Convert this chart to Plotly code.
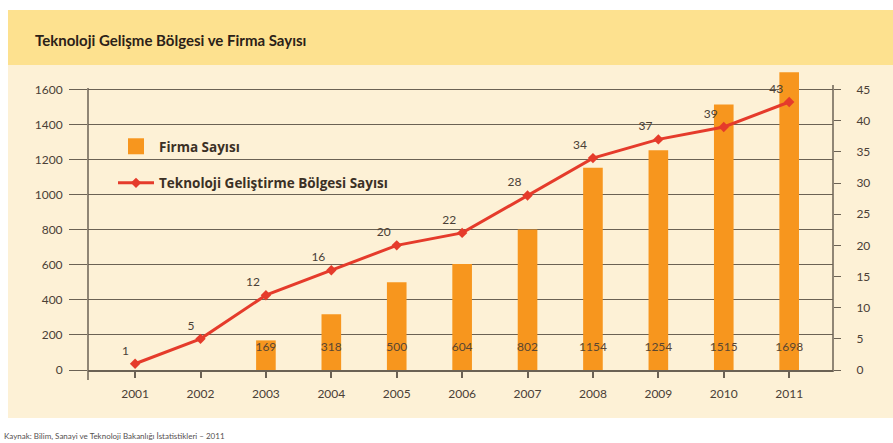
import plotly.graph_objects as go

years = ["2001", "2002", "2003", "2004", "2005", "2006", "2007", "2008", "2009", "2010", "2011"]
firma_years = ["2003", "2004", "2005", "2006", "2007", "2008", "2009", "2010", "2011"]
firma_sayisi = [169, 318, 500, 604, 802, 1154, 1254, 1515, 1698]
tgb_sayisi = [1, 5, 12, 16, 20, 22, 28, 34, 37, 39, 43]
left_ticks = [0, 200, 400, 600, 800, 1000, 1200, 1400, 1600]
right_ticks = [0, 5, 10, 15, 20, 25, 30, 35, 40, 45]

W, H = 893, 443
ML, MR, MT, MB = 88, 60, 72, 73
PW = W - ML - MR
PH = H - MT - MB


def px(x):
    return (x - ML) / PW


def py(y):
    return (H - MB - y) / PH


AX = "#6b6254"
ORANGE = "#f7961e"
RED = "#e53b2b"
TXT = "#4a4036"
NUMFONT = "Lato"

LEFT_MAX = 1700
RIGHT_MAX = 45 * LEFT_MAX / 1600

fig = go.Figure()

fig.add_trace(go.Bar(
    x=firma_years, y=firma_sayisi, width=0.3, marker=dict(color=ORANGE, line=dict(width=0)),
    name="Firma Sayısı", showlegend=False, hoverinfo="x+y",
))
# legend proxy for the bar series (bigger square)
fig.add_trace(go.Scatter(
    x=[None], y=[None], mode="markers", name="Firma Sayısı",
    marker=dict(symbol="square", size=19, color=ORANGE), legendgroup="a",
))
# bar value labels
fig.add_trace(go.Scatter(
    x=firma_years, y=[125] * len(firma_years), mode="text",
    text=[str(v) for v in firma_sayisi], textfont=dict(family=NUMFONT, size=12, color="#5a4632"),
    showlegend=False, hoverinfo="skip", cliponaxis=False,
))
fig.add_trace(go.Scatter(
    x=years, y=tgb_sayisi, yaxis="y2", mode="lines+markers+text",
    name="Teknoloji Geliştirme Bölgesi Sayısı", legendgroup="b",
    line=dict(color=RED, width=3), marker=dict(symbol="diamond", size=8, color=RED),
    text=[str(v) for v in tgb_sayisi], textposition="top left",
    textfont=dict(family=NUMFONT, size=12, color=TXT), cliponaxis=False,
))

shapes = [
    dict(type="rect", xref="paper", yref="paper", x0=px(8), x1=px(W + 5), y0=py(418), y1=py(65),
         fillcolor="#fdf1d6", line=dict(width=0), layer="below"),
    dict(type="rect", xref="paper", yref="paper", x0=px(8), x1=px(W + 5), y0=py(65), y1=py(10),
         fillcolor="#fde18f", line=dict(width=0), layer="below"),
    # axis lines (stop at the 1600 / 45 level)
    dict(type="line", xref="paper", yref="paper", x0=0, x1=0, y0=py(380), y1=py(88),
         line=dict(color=AX, width=1.5)),
    dict(type="line", xref="paper", yref="paper", x0=1, x1=1, y0=py(372), y1=py(85),
         line=dict(color=AX, width=1.5)),
]

fig.update_layout(
    width=W, height=H,
    margin=dict(l=ML, r=MR, t=MT, b=MB, pad=0),
    paper_bgcolor="white", plot_bgcolor="rgba(0,0,0,0)",
    shapes=shapes,
    showlegend=True,
    legend=dict(
        x=px(113), y=py(131), xanchor="left", yanchor="top",
        bgcolor="rgba(0,0,0,0)", traceorder="grouped", tracegroupgap=16,
        font=dict(family="Open Sans", size=13.5, color="#3b3025", weight="bold"),
        itemwidth=36,
    ),
    xaxis=dict(
        type="category", categoryorder="array", categoryarray=years,
        range=[-0.72, 10.67], showgrid=False,
        showline=True, linecolor=AX, linewidth=1.5,
        ticks="outside", ticklen=6, tickwidth=1.5, tickcolor=AX,
        tickfont=dict(family=NUMFONT, size=12, color=TXT), ticklabelstandoff=6,
        fixedrange=True,
    ),
    yaxis=dict(
        range=[0, LEFT_MAX], tickvals=left_ticks, ticktext=[str(v) for v in left_ticks],
        showgrid=True, gridcolor=AX, gridwidth=1.2, zeroline=False, showline=False,
        ticks="outside", ticklen=18, tickwidth=1.2, tickcolor=AX,
        tickfont=dict(family=NUMFONT, size=12, color=TXT), ticklabelstandoff=4,
    ),
    yaxis2=dict(
        range=[0, RIGHT_MAX], tickvals=right_ticks, overlaying="y", side="right",
        showgrid=False, zeroline=False, showline=False,
        ticks="outside", ticklen=7, tickwidth=1.2, tickcolor=AX,
        tickfont=dict(family=NUMFONT, size=12, color=TXT), ticklabelstandoff=13,
    ),
    annotations=[
        dict(text="Teknoloji Gelişme Bölgesi ve Firma Sayısı", xref="paper", yref="paper",
             x=px(33), y=py(40), xanchor="left", yanchor="middle", showarrow=False,
             font=dict(family="Lato", size=15, color="#2b2118", weight="bold")),
        dict(text="Kaynak: Bilim, Sanayi ve Teknoloji Bakanlığı İstatistikleri – 2011", xref="paper", yref="paper",
             x=px(2), y=py(436), xanchor="left", yanchor="middle", showarrow=False,
             font=dict(family="Lato", size=8, color="#555050")),
    ],
)

fig.write_html(
    "out.html",
    config={"displayModeBar": False},
    post_script="document.body.style.margin='0';document.body.style.overflow='hidden';",
)
